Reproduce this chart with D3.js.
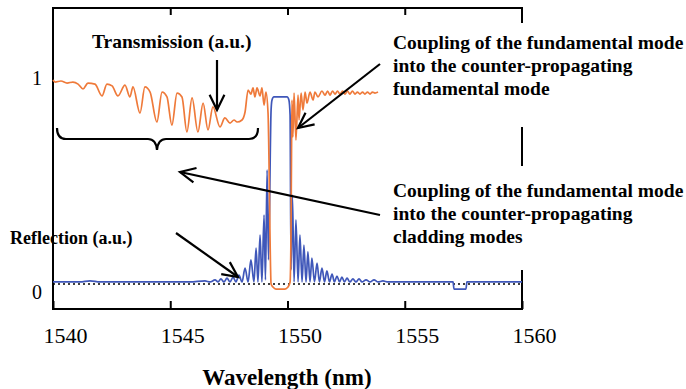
<!DOCTYPE html>
<html>
<head>
<meta charset="utf-8">
<script src="https://cdn.jsdelivr.net/npm/d3@7"></script>
<style>
  body { margin: 0; background: white; }
  svg text { font-family: "Liberation Serif", "DejaVu Serif", "Noto Serif", "Times New Roman", Times, serif; fill: black; }
  .note { font-weight: bold; }
  .trace { fill: none; stroke-width: 1.7; stroke-linejoin: round; }
</style>
</head>
<body>
<script>
const W = 686, H = 389;
const SERIF = "'Liberation Serif', 'DejaVu Serif', 'Noto Serif', 'Times New Roman', Times, serif";

// wavelength axis (nm) and level ticks (a.u.)
const wlTicks = [1540, 1545, 1550, 1555, 1560];
const levelTicks = [0, 1];

// transmission trace (orange)
const transWl = [1540.00,1540.09,1540.34,1540.60,1540.85,1541.07,1541.28,1541.49,1541.79,1542.09,
  1542.30,1542.52,1542.77,1543.07,1543.28,1543.41,1543.71,1543.92,1544.14,1544.43,
  1544.65,1544.86,1545.07,1545.29,1545.50,1545.71,1545.93,1546.18,1546.40,1546.61,
  1546.82,1547.12,1547.33,1547.55,1547.72,1547.85,1548.06,1548.19,1548.32,1548.44,
  1548.53,1548.61,1548.70,1548.83,1548.91,1549.00,1549.08,1549.17,1549.21,1549.25,
  1549.30,1549.38,1549.51,1549.68,1549.89,1550.02,1550.11,1550.15,1550.17,1550.19,
  1550.23,1550.28,1550.36,1550.45,1550.49,1550.58,1550.66,1550.75,1550.83,1550.96,
  1551.09,1551.17,1551.30,1551.47,1551.60,1551.71,1551.81,1551.92,1552.03,1552.13,
  1552.24,1552.35,1552.45,1552.56,1552.66,1552.77,1552.88,1552.98,1553.09,1553.20,
  1553.30,1553.41,1553.52,1553.62,1553.73,1553.86];
const transVal = [1.000,0.990,0.995,0.985,0.990,0.980,0.956,0.985,0.980,0.922,
  0.980,0.971,0.922,0.975,0.917,0.966,0.838,0.966,0.941,0.794,
  0.941,0.917,0.779,0.936,0.917,0.745,0.912,0.745,0.887,0.755,
  0.868,0.770,0.814,0.789,0.804,0.794,0.804,0.843,0.951,0.931,
  0.961,0.917,0.961,0.922,0.961,0.877,0.941,0.838,0.608,0.265,
  0.000,-0.015,-0.025,-0.025,-0.025,-0.015,0.010,0.265,0.608,0.902,
  0.721,0.936,0.706,0.926,0.804,0.936,0.853,0.941,0.887,0.941,
  0.902,0.941,0.917,0.946,0.926,0.946,0.926,0.946,0.931,0.946,
  0.931,0.946,0.931,0.946,0.931,0.946,0.931,0.941,0.931,0.941,
  0.931,0.941,0.931,0.941,0.936,0.941];

// reflection trace (blue)
const reflWl = [1540.00,1541.15,1541.58,1542.00,1543.28,1544.56,1545.84,1546.48,1546.70,1546.91,
  1547.04,1547.16,1547.29,1547.42,1547.55,1547.68,1547.80,1547.93,1548.06,1548.19,
  1548.32,1548.44,1548.57,1548.66,1548.74,1548.83,1548.91,1549.00,1549.06,1549.13,
  1549.19,1549.30,1549.34,1549.42,1549.77,1549.98,1550.06,1550.11,1550.15,1550.21,
  1550.28,1550.36,1550.45,1550.53,1550.62,1550.70,1550.79,1550.87,1550.96,1551.04,
  1551.15,1551.26,1551.36,1551.47,1551.58,1551.68,1551.79,1551.90,1552.00,1552.11,
  1552.22,1552.32,1552.43,1552.54,1552.66,1552.79,1552.92,1553.05,1553.18,1553.35,
  1553.52,1553.69,1553.86,1554.07,1554.29,1554.80,1557.06,1557.10,1557.61,1557.65,
  1560.00];
const reflVal = [0.010,0.010,0.015,0.010,0.010,0.010,0.010,0.015,0.010,0.020,
  0.010,0.025,0.010,0.029,0.010,0.034,0.010,0.044,0.010,0.078,
  0.010,0.118,0.010,0.176,0.010,0.240,0.010,0.338,0.020,0.559,
  0.118,0.853,0.902,0.917,0.917,0.917,0.902,0.828,0.069,0.436,
  0.010,0.314,0.010,0.240,0.010,0.191,0.010,0.157,0.010,0.127,
  0.010,0.103,0.010,0.078,0.010,0.064,0.010,0.049,0.010,0.039,
  0.010,0.034,0.010,0.029,0.010,0.025,0.010,0.025,0.010,0.020,
  0.010,0.020,0.010,0.015,0.010,0.010,0.010,-0.025,-0.025,0.010,
  0.010];

const transData = transWl.map((w, i) => ({ w: w, v: transVal[i] }));
const reflData = reflWl.map((w, i) => ({ w: w, v: reflVal[i] }));

const svg = d3.select("body").append("svg")
  .attr("width", W)
  .attr("height", H);

const L = 53, R = 522, T = 8, B = 309;

const x = d3.scaleLinear().domain([1540, 1560]).range([L, R]);
const y = d3.scaleLinear().domain([0, 1]).range([284, 80]);

const line = d3.line()
  .curve(d3.curveMonotoneX)
  .x(d => x(d.w))
  .y(d => y(d.v));

// bottom axis, ticks pointing in
svg.append("g")
  .attr("transform", "translate(0," + B + ")")
  .call(d3.axisBottom(x).tickValues(wlTicks).tickSizeInner(-8).tickSizeOuter(0).tickPadding(18).tickFormat(d3.format("d")))
  .call(g => g.attr("font-family", SERIF))
  .call(g => g.select(".domain").remove())
  .call(g => g.selectAll("line").attr("stroke", "#000").attr("stroke-width", 2))
  .call(g => g.selectAll("text").attr("font-size", 22).attr("dx", 12));

// top axis
svg.append("g")
  .attr("transform", "translate(0," + T + ")")
  .call(d3.axisTop(x).tickValues(wlTicks.slice(1, -1)).tickSizeInner(-7).tickSizeOuter(0).tickFormat(""))
  .call(g => g.select(".domain").remove())
  .call(g => g.selectAll("line").attr("stroke", "#000").attr("stroke-width", 2));

// left labels only
svg.append("g")
  .attr("transform", "translate(" + L + ",0)")
  .call(d3.axisLeft(y).tickValues(levelTicks).tickSize(0).tickPadding(11).tickFormat(d3.format("d")))
  .call(g => g.attr("font-family", SERIF))
  .call(g => g.select(".domain").remove())
  .call(g => g.selectAll("text").attr("font-size", 20)
    .attr("y", d => d === 0 ? 8 : -2));

// frame
svg.append("rect")
  .attr("x", L).attr("y", T)
  .attr("width", R - L).attr("height", B - T)
  .attr("fill", "none")
  .attr("stroke", "#000")
  .attr("stroke-width", 2);

// zero reference
svg.append("line")
  .attr("x1", x(1540)).attr("x2", x(1560))
  .attr("y1", y(0)).attr("y2", y(0))
  .attr("stroke", "#000")
  .attr("stroke-width", 1.3)
  .attr("stroke-dasharray", "2,3");

svg.append("path")
  .datum(reflData)
  .attr("class", "trace")
  .attr("stroke", "#3f57b9")
  .attr("d", line);

svg.append("path")
  .datum(transData)
  .attr("class", "trace")
  .attr("stroke", "#ef7a3a")
  .attr("d", line);

// white panels behind the right-hand notes
svg.append("rect").attr("x", 384).attr("y", 23).attr("width", 302).attr("height", 104).attr("fill", "white");
svg.append("rect").attr("x", 384).attr("y", 166).attr("width", 302).attr("height", 104).attr("fill", "white");

// notes
function note(lines, x0, y0, step, size) {
  const t = svg.append("text").attr("class", "note")
    .attr("font-family", SERIF).attr("font-weight", "bold").attr("font-size", size);
  lines.forEach((s, i) => {
    t.append("tspan").attr("x", x0).attr("y", y0 + i * step).text(s);
  });
}
note(["Transmission (a.u.)"], 92, 48, 0, 19.5);
note(["Coupling of the fundamental mode", "into the counter-propagating", "fundamental mode"], 393, 49, 23, 19.5);
note(["Coupling of the fundamental mode", "into the counter-propagating", "cladding modes"], 393, 197, 23, 19.5);
note(["Reflection (a.u.)"], 10, 244, 0, 18);

svg.append("text")
  .attr("x", 287).attr("y", 385)
  .attr("text-anchor", "middle")
  .attr("font-family", SERIF)
  .attr("font-weight", "bold")
  .attr("font-size", 23)
  .text("Wavelength (nm)");

// arrows
function arrow(x1, y1, x2, y2) {
  const g = svg.append("g").attr("stroke", "#000").attr("stroke-width", 2.2).attr("fill", "none");
  g.append("line").attr("x1", x1).attr("y1", y1).attr("x2", x2).attr("y2", y2);
  const a = Math.atan2(y2 - y1, x2 - x1), len = 17, sp = 0.45;
  const p1 = [x2 - len * Math.cos(a - sp), y2 - len * Math.sin(a - sp)];
  const p2 = [x2 - len * Math.cos(a + sp), y2 - len * Math.sin(a + sp)];
  g.append("path").attr("d", "M" + p1 + "L" + x2 + "," + y2 + "L" + p2);
}
arrow(217, 60, 217, 110);
arrow(380, 64, 298, 128);
arrow(380, 215, 180, 172);
arrow(176, 233, 238, 277);

// brace under the cladding-mode dips
svg.append("path")
  .attr("d", "M57,128 Q57,139 66,139 L148,139 Q156,139 157,150 Q158,139 166,139 L249,139 Q258,139 258,128")
  .attr("fill", "none")
  .attr("stroke", "#000")
  .attr("stroke-width", 2.2);
</script>
</body>
</html>
